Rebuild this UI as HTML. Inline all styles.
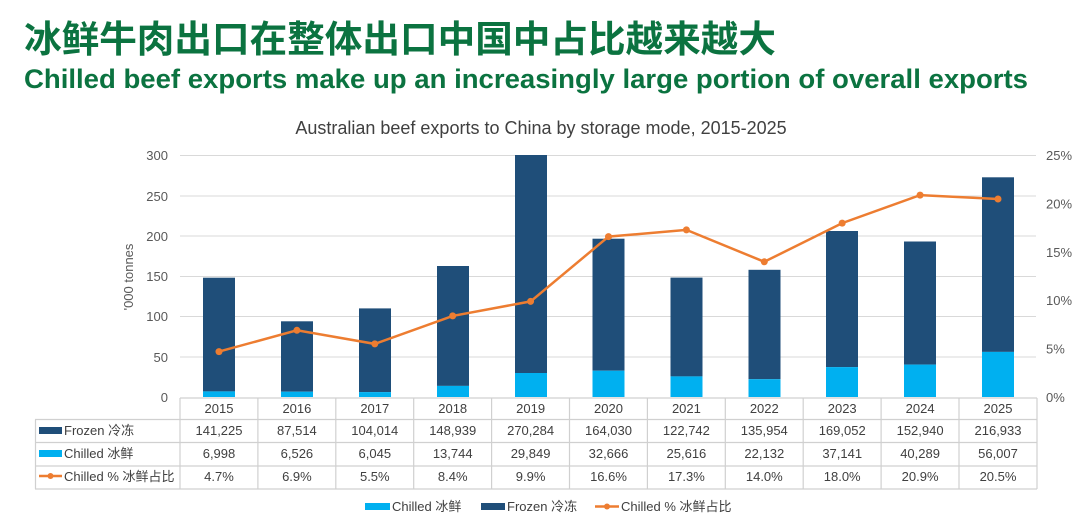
<!DOCTYPE html>
<html><head><meta charset="utf-8"><style>
html,body{margin:0;padding:0;background:#fff;width:1080px;height:527px;overflow:hidden}
text{font-family:"Liberation Sans","Noto Sans CJK SC",sans-serif}
</style></head><body>
<svg width="1080" height="527" viewBox="0 0 1080 527" xmlns="http://www.w3.org/2000/svg">
<text x="24" y="52" font-size="37" font-weight="bold" fill="#0b7340" textLength="752" lengthAdjust="spacingAndGlyphs">冰鲜牛肉出口在整体出口中国中占比越来越大</text>
<text x="24" y="88" font-size="27" font-weight="bold" fill="#0b7340" textLength="1004" lengthAdjust="spacingAndGlyphs">Chilled beef exports make up an increasingly large portion of overall exports</text>
<text x="541" y="134" font-size="18" fill="#404040" text-anchor="middle">Australian beef exports to China by storage mode, 2015-2025</text>
<g stroke="#d9d9d9" stroke-width="1">
<line x1="180" x2="1036" y1="155.5" y2="155.5"/><line x1="180" x2="1036" y1="196" y2="196"/>
<line x1="180" x2="1036" y1="236" y2="236"/><line x1="180" x2="1036" y1="276.5" y2="276.5"/>
<line x1="180" x2="1036" y1="316.5" y2="316.5"/><line x1="180" x2="1036" y1="357" y2="357"/>
</g>
<g font-size="13" fill="#595959" text-anchor="end">
<text x="168" y="160">300</text><text x="168" y="201">250</text><text x="168" y="241">200</text>
<text x="168" y="281">150</text><text x="168" y="321">100</text><text x="168" y="362">50</text><text x="168" y="402">0</text>
</g>
<g font-size="13" fill="#595959">
<text x="1046" y="160">25%</text><text x="1046" y="208.5">20%</text><text x="1046" y="257">15%</text>
<text x="1046" y="305">10%</text><text x="1046" y="353.5">5%</text><text x="1046" y="402">0%</text>
</g>
<text transform="translate(133,277) rotate(-90)" font-size="13" fill="#595959" text-anchor="middle">'000 tonnes</text>
<g fill="#1f4e79">
<rect x="203" y="277.7" width="32" height="113.7"/>
<rect x="281" y="321.3" width="32" height="70.4"/>
<rect x="359" y="308.4" width="32" height="83.7"/>
<rect x="437" y="266" width="32" height="119.9"/>
<rect x="515" y="155" width="32" height="218"/>
<rect x="592.5" y="238.7" width="32" height="132"/>
<rect x="670.5" y="277.6" width="32" height="98.8"/>
<rect x="748.5" y="269.8" width="32" height="109.4"/>
<rect x="826" y="231" width="32" height="136.1"/>
<rect x="904" y="241.5" width="32" height="123.1"/>
<rect x="982" y="177.3" width="32" height="174.6"/>
</g>
<g fill="#00b0f0">
<rect x="203" y="391.4" width="32" height="5.6"/>
<rect x="281" y="391.7" width="32" height="5.3"/>
<rect x="359" y="392.1" width="32" height="4.9"/>
<rect x="437" y="385.9" width="32" height="11.1"/>
<rect x="515" y="373" width="32" height="24"/>
<rect x="592.5" y="370.7" width="32" height="26.3"/>
<rect x="670.5" y="376.4" width="32" height="20.6"/>
<rect x="748.5" y="379.2" width="32" height="17.8"/>
<rect x="826" y="367.1" width="32" height="29.9"/>
<rect x="904" y="364.6" width="32" height="32.4"/>
<rect x="982" y="351.9" width="32" height="45.1"/>
</g>
<polyline fill="none" stroke="#ed7d31" stroke-width="2.5" points="219,351.6 296.9,330.3 374.8,343.9 452.7,315.9 530.6,301.4 608.5,236.6 686.4,229.9 764.3,261.8 842.2,223.1 920.1,195.1 998,199"/>
<g fill="#ed7d31">
<circle cx="219" cy="351.6" r="3.5"/><circle cx="296.9" cy="330.3" r="3.5"/><circle cx="374.8" cy="343.9" r="3.5"/>
<circle cx="452.7" cy="315.9" r="3.5"/><circle cx="530.6" cy="301.4" r="3.5"/><circle cx="608.5" cy="236.6" r="3.5"/>
<circle cx="686.4" cy="229.9" r="3.5"/><circle cx="764.3" cy="261.8" r="3.5"/><circle cx="842.2" cy="223.1" r="3.5"/>
<circle cx="920.1" cy="195.1" r="3.5"/><circle cx="998" cy="199" r="3.5"/>
</g>
<g stroke="#d0d0d0" stroke-width="1.2" fill="none">
<line x1="180" x2="1037" y1="398" y2="398"/>
<line x1="35" x2="1037" y1="419.5" y2="419.5"/>
<line x1="35" x2="1037" y1="442.5" y2="442.5"/>
<line x1="35" x2="1037" y1="466" y2="466"/>
<line x1="35" x2="1037" y1="489" y2="489"/>
<line x1="35.5" x2="35.5" y1="419.5" y2="489"/>
<line x1="180" x2="180" y1="398" y2="489"/>
<line x1="257.9" x2="257.9" y1="398" y2="489"/><line x1="335.8" x2="335.8" y1="398" y2="489"/>
<line x1="413.7" x2="413.7" y1="398" y2="489"/><line x1="491.6" x2="491.6" y1="398" y2="489"/>
<line x1="569.5" x2="569.5" y1="398" y2="489"/><line x1="647.4" x2="647.4" y1="398" y2="489"/>
<line x1="725.3" x2="725.3" y1="398" y2="489"/><line x1="803.2" x2="803.2" y1="398" y2="489"/>
<line x1="881.1" x2="881.1" y1="398" y2="489"/><line x1="959" x2="959" y1="398" y2="489"/>
<line x1="1037" x2="1037" y1="398" y2="489"/>
</g>
<rect x="39" y="427" width="23" height="7" fill="#1f4e79"/>
<rect x="39" y="450" width="23" height="7" fill="#00b0f0"/>
<line x1="39" x2="62" y1="476" y2="476" stroke="#ed7d31" stroke-width="2.5"/><circle cx="50.5" cy="476" r="3" fill="#ed7d31"/>
<g font-size="13" fill="#404040">
<text x="64" y="435">Frozen 冷冻</text>
<text x="64" y="458">Chilled 冰鲜</text>
<text x="64" y="481">Chilled % 冰鲜占比</text>
</g>
<g font-size="13" fill="#404040" text-anchor="middle">
<text x="219" y="413">2015</text><text x="296.9" y="413">2016</text><text x="374.8" y="413">2017</text><text x="452.7" y="413">2018</text><text x="530.6" y="413">2019</text><text x="608.5" y="413">2020</text><text x="686.4" y="413">2021</text><text x="764.3" y="413">2022</text><text x="842.2" y="413">2023</text><text x="920.1" y="413">2024</text><text x="998" y="413">2025</text>
<text x="219" y="435">141,225</text><text x="296.9" y="435">87,514</text><text x="374.8" y="435">104,014</text><text x="452.7" y="435">148,939</text><text x="530.6" y="435">270,284</text><text x="608.5" y="435">164,030</text><text x="686.4" y="435">122,742</text><text x="764.3" y="435">135,954</text><text x="842.2" y="435">169,052</text><text x="920.1" y="435">152,940</text><text x="998" y="435">216,933</text>
<text x="219" y="458">6,998</text><text x="296.9" y="458">6,526</text><text x="374.8" y="458">6,045</text><text x="452.7" y="458">13,744</text><text x="530.6" y="458">29,849</text><text x="608.5" y="458">32,666</text><text x="686.4" y="458">25,616</text><text x="764.3" y="458">22,132</text><text x="842.2" y="458">37,141</text><text x="920.1" y="458">40,289</text><text x="998" y="458">56,007</text>
<text x="219" y="481">4.7%</text><text x="296.9" y="481">6.9%</text><text x="374.8" y="481">5.5%</text><text x="452.7" y="481">8.4%</text><text x="530.6" y="481">9.9%</text><text x="608.5" y="481">16.6%</text><text x="686.4" y="481">17.3%</text><text x="764.3" y="481">14.0%</text><text x="842.2" y="481">18.0%</text><text x="920.1" y="481">20.9%</text><text x="998" y="481">20.5%</text>
</g>
<rect x="365" y="503" width="25" height="7" fill="#00b0f0"/>
<rect x="481" y="503" width="24" height="7" fill="#1f4e79"/>
<line x1="595" x2="619" y1="506.5" y2="506.5" stroke="#ed7d31" stroke-width="2.5"/><circle cx="607" cy="506.5" r="3" fill="#ed7d31"/>
<g font-size="13" fill="#404040">
<text x="392" y="511">Chilled 冰鲜</text>
<text x="507" y="511">Frozen 冷冻</text>
<text x="621" y="511">Chilled % 冰鲜占比</text>
</g>
</svg>
</body></html>
